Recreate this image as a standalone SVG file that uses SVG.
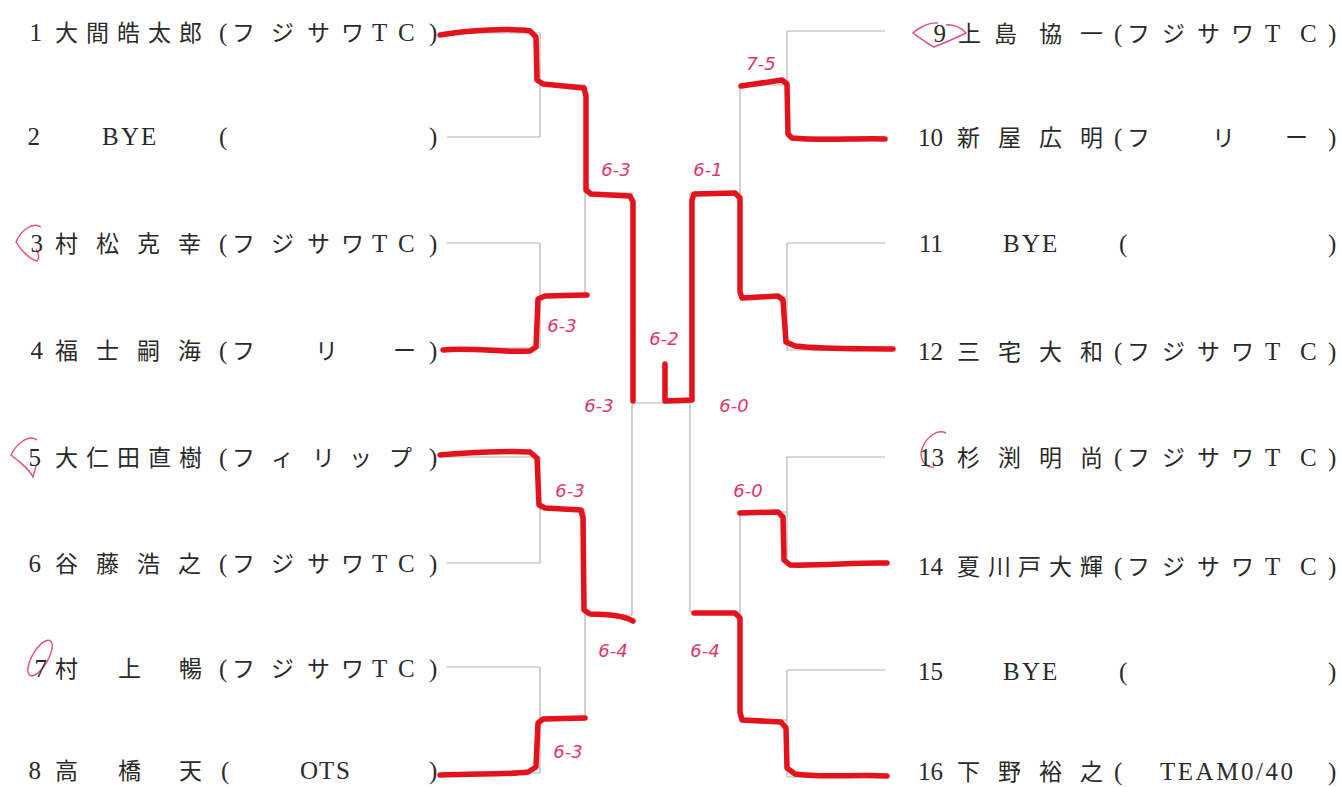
<svg xmlns="http://www.w3.org/2000/svg" width="1341" height="787" viewBox="0 0 1341 787">
<style>
.t{font-family:"Noto Sans CJK JP",sans-serif;font-size:23px;fill:#2a2a2a}
.l{font-family:"Liberation Serif","Noto Sans CJK JP",serif;font-size:25px;fill:#2a2a2a}
.n{font-family:"Liberation Serif",serif;font-size:25px;fill:#2a2a2a;text-anchor:end}
.g{stroke:#b4b4b4;stroke-width:1.2;fill:none}
.r{stroke:#e3121d;stroke-width:5.5;fill:none;stroke-linejoin:round;stroke-linecap:round}
.s{font-family:"DejaVu Sans",sans-serif;font-style:italic;font-size:18px;fill:#e0356a;text-anchor:middle}
.c{stroke:#e2507c;stroke-width:1.4;fill:none}
</style>
<rect width="1341" height="787" fill="#ffffff"/>

<g id="bracket">
  <path class="g" d="M447,33H540M447,137H540M447,243H540M447,348H540M447,457H540M447,563H540M447,667H540M447,773H540"/>
  <path class="g" d="M540,33V137M540,243V348M540,457V563M540,667V773"/>
  <path class="g" d="M540,85H585M540,296H585M540,509H585M540,720H585M585,85V296M585,509V720"/>
  <path class="g" d="M585,193H632M585,615H632M632,193V615M632,403H690"/>
  <path class="g" d="M690,193V612M690,193H740M690,612H740M740,85V297M740,512V720"/>
  <path class="g" d="M740,85H787M740,297H787M740,512H787M740,720H787"/>
  <path class="g" d="M787,31V137M787,243V350M787,457V563M787,670V777"/>
  <path class="g" d="M787,31H885M787,137H885M787,243H885M787,350H885M787,457H885M787,563H885M787,670H885M787,777H885"/>
</g>

<g id="results">
  <path class="r" d="M440,35 C470,30 510,28 530,31 L536,37 L537,80 L543,84 L584,88 L586,96 L586,190 L591,194 L630,196 L633,202 L633,401"/>
  <path class="r" d="M443,350 C470,347 505,353 530,351 L536,347 L538,299 L545,296 L587,295"/>
  <path class="r" d="M440,455 C470,452 510,451 530,452 L537,458 L539,505 L545,508 L581,510 L583,518 L584,610 L590,614 C605,614 622,615 633,621"/>
  <path class="r" d="M440,775 C470,773 505,775 528,772 L536,767 L538,723 L543,719 L585,718"/>
  <path class="r" d="M885,139 C860,138 820,141 792,138 L788,134 L787,84 L782,80 L741,86"/>
  <path class="r" d="M893,349 C870,348 830,350 795,346 L786,342 L783,300 L778,296 L742,298 L740,292 L740,198 L735,193 L694,194 L692,200 L692,400 L665,401 L665,364"/>
  <path class="r" d="M887,563 C860,562 820,566 790,565 L784,560 L783,517 L778,512 L740,513"/>
  <path class="r" d="M887,776 C860,774 820,778 795,774 L787,768 L786,728 L781,722 L742,720 L740,712 L740,618 L735,613 L694,613"/>
</g>

<g id="scores">
  <text class="s" x="761" y="70">7-5</text>
  <text class="s" x="616" y="176">6-3</text>
  <text class="s" x="708" y="176">6-1</text>
  <text class="s" x="562" y="332">6-3</text>
  <text class="s" x="664" y="345">6-2</text>
  <text class="s" x="599" y="412">6-3</text>
  <text class="s" x="734" y="412">6-0</text>
  <text class="s" x="570" y="497">6-3</text>
  <text class="s" x="748" y="497">6-0</text>
  <text class="s" x="613" y="657">6-4</text>
  <text class="s" x="705" y="657">6-4</text>
  <text class="s" x="568" y="758">6-3</text>
</g>

<g id="marks">
  <path class="c" d="M41,227 C32,221 20,232 16,242 C21,251 30,259 37,261 C40,257 38,252 36,249"/>
  <path class="c" d="M37,440 C28,433 15,446 11,455 C20,462 29,469 33,477 L36,466"/>
  <ellipse class="c" cx="40" cy="658" rx="8" ry="20" transform="rotate(30 40 658)"/>
  <path class="c" d="M938,23 C927,22 916,30 913,33 C920,38 928,44 934,47 C944,43 956,38 966,33 C961,27 952,24 946,25"/>
  <path class="c" d="M946,433 C936,428 923,440 921,453 C921,462 927,468 934,467"/>
</g>

<g id="p1"><text class="n" x="42" y="41">1</text><text class="t" x="55 86 117 148 179" y="41">大間皓太郎</text><text class="l" x="219" y="41">(</text><text class="t" x="232 271 307 341" y="41">フジサワ</text><text class="l" x="372 398" y="41">TC</text><text class="l" x="429" y="41">)</text></g>
<g id="p2"><text class="n" x="40" y="145">2</text><text class="l" x="102 121 141" y="145">BYE</text><text class="l" x="219" y="145">(</text><text class="l" x="429" y="145">)</text></g>
<g id="p3"><text class="n" x="43" y="252">3</text><text class="t" x="55 96 137 178" y="252">村松克幸</text><text class="l" x="219" y="252">(</text><text class="t" x="232 271 307 341" y="252">フジサワ</text><text class="l" x="372 398" y="252">TC</text><text class="l" x="429" y="252">)</text></g>
<g id="p4"><text class="n" x="43" y="359">4</text><text class="t" x="55 96 137 178" y="359">福士嗣海</text><text class="l" x="219" y="359">(</text><text class="t" x="232 315 393" y="359">フリー</text><text class="l" x="429" y="359">)</text></g>
<g id="p5"><text class="n" x="41" y="466">5</text><text class="t" x="55 86 117 148 179" y="466">大仁田直樹</text><text class="l" x="219" y="466">(</text><text class="t" x="232 271 312 349 389" y="466">フィリップ</text><text class="l" x="429" y="466">)</text></g>
<g id="p6"><text class="n" x="41" y="572">6</text><text class="t" x="55 96 137 178" y="572">谷藤浩之</text><text class="l" x="219" y="572">(</text><text class="t" x="232 271 307 341" y="572">フジサワ</text><text class="l" x="372 398" y="572">TC</text><text class="l" x="429" y="572">)</text></g>
<g id="p7"><text class="n" x="47" y="677">7</text><text class="t" x="55 118 179" y="677">村上暢</text><text class="l" x="219" y="677">(</text><text class="t" x="232 271 307 341" y="677">フジサワ</text><text class="l" x="372 398" y="677">TC</text><text class="l" x="429" y="677">)</text></g>
<g id="p8"><text class="n" x="41" y="779">8</text><text class="t" x="55 118 179" y="779">高橋天</text><text class="l" x="221" y="779">(</text><text class="l" x="300 319 336" y="779">OTS</text><text class="l" x="429" y="779">)</text></g>

<g id="p9"><text class="n" x="946" y="42">9</text><text class="t" x="958 994 1039 1080" y="42">上島協一</text><text class="l" x="1114" y="42">(</text><text class="t" x="1127 1162 1197 1231" y="42">フジサワ</text><text class="l" x="1265 1300" y="42">TC</text><text class="l" x="1328" y="42">)</text></g>
<g id="p10"><text class="n" x="943" y="146">10</text><text class="t" x="957 998 1039 1080" y="146">新屋広明</text><text class="l" x="1114" y="146">(</text><text class="t" x="1127 1212 1285" y="146">フリー</text><text class="l" x="1328" y="146">)</text></g>
<g id="p11"><text class="n" x="943" y="252">11</text><text class="l" x="1003 1022 1042" y="252">BYE</text><text class="l" x="1119" y="252">(</text><text class="l" x="1328" y="252">)</text></g>
<g id="p12"><text class="n" x="943" y="360">12</text><text class="t" x="957 998 1039 1080" y="360">三宅大和</text><text class="l" x="1114" y="360">(</text><text class="t" x="1127 1162 1197 1231" y="360">フジサワ</text><text class="l" x="1265 1300" y="360">TC</text><text class="l" x="1328" y="360">)</text></g>
<g id="p13"><text class="n" x="944" y="466">13</text><text class="t" x="957 998 1039 1080" y="466">杉渕明尚</text><text class="l" x="1114" y="466">(</text><text class="t" x="1127 1162 1197 1231" y="466">フジサワ</text><text class="l" x="1265 1300" y="466">TC</text><text class="l" x="1328" y="466">)</text></g>
<g id="p14"><text class="n" x="943" y="575">14</text><text class="t" x="957 988 1018 1049 1080" y="575">夏川戸大輝</text><text class="l" x="1114" y="575">(</text><text class="t" x="1127 1162 1197 1231" y="575">フジサワ</text><text class="l" x="1265 1300" y="575">TC</text><text class="l" x="1328" y="575">)</text></g>
<g id="p15"><text class="n" x="943" y="680">15</text><text class="l" x="1003 1022 1042" y="680">BYE</text><text class="l" x="1119" y="680">(</text><text class="l" x="1328" y="680">)</text></g>
<g id="p16"><text class="n" x="943" y="780">16</text><text class="t" x="957 998 1039 1080" y="780">下野裕之</text><text class="l" x="1114" y="780">(</text><text class="l" x="1160" y="780" textLength="133" lengthAdjust="spacing">TEAM0/40</text><text class="l" x="1328" y="780">)</text></g>
</svg>
